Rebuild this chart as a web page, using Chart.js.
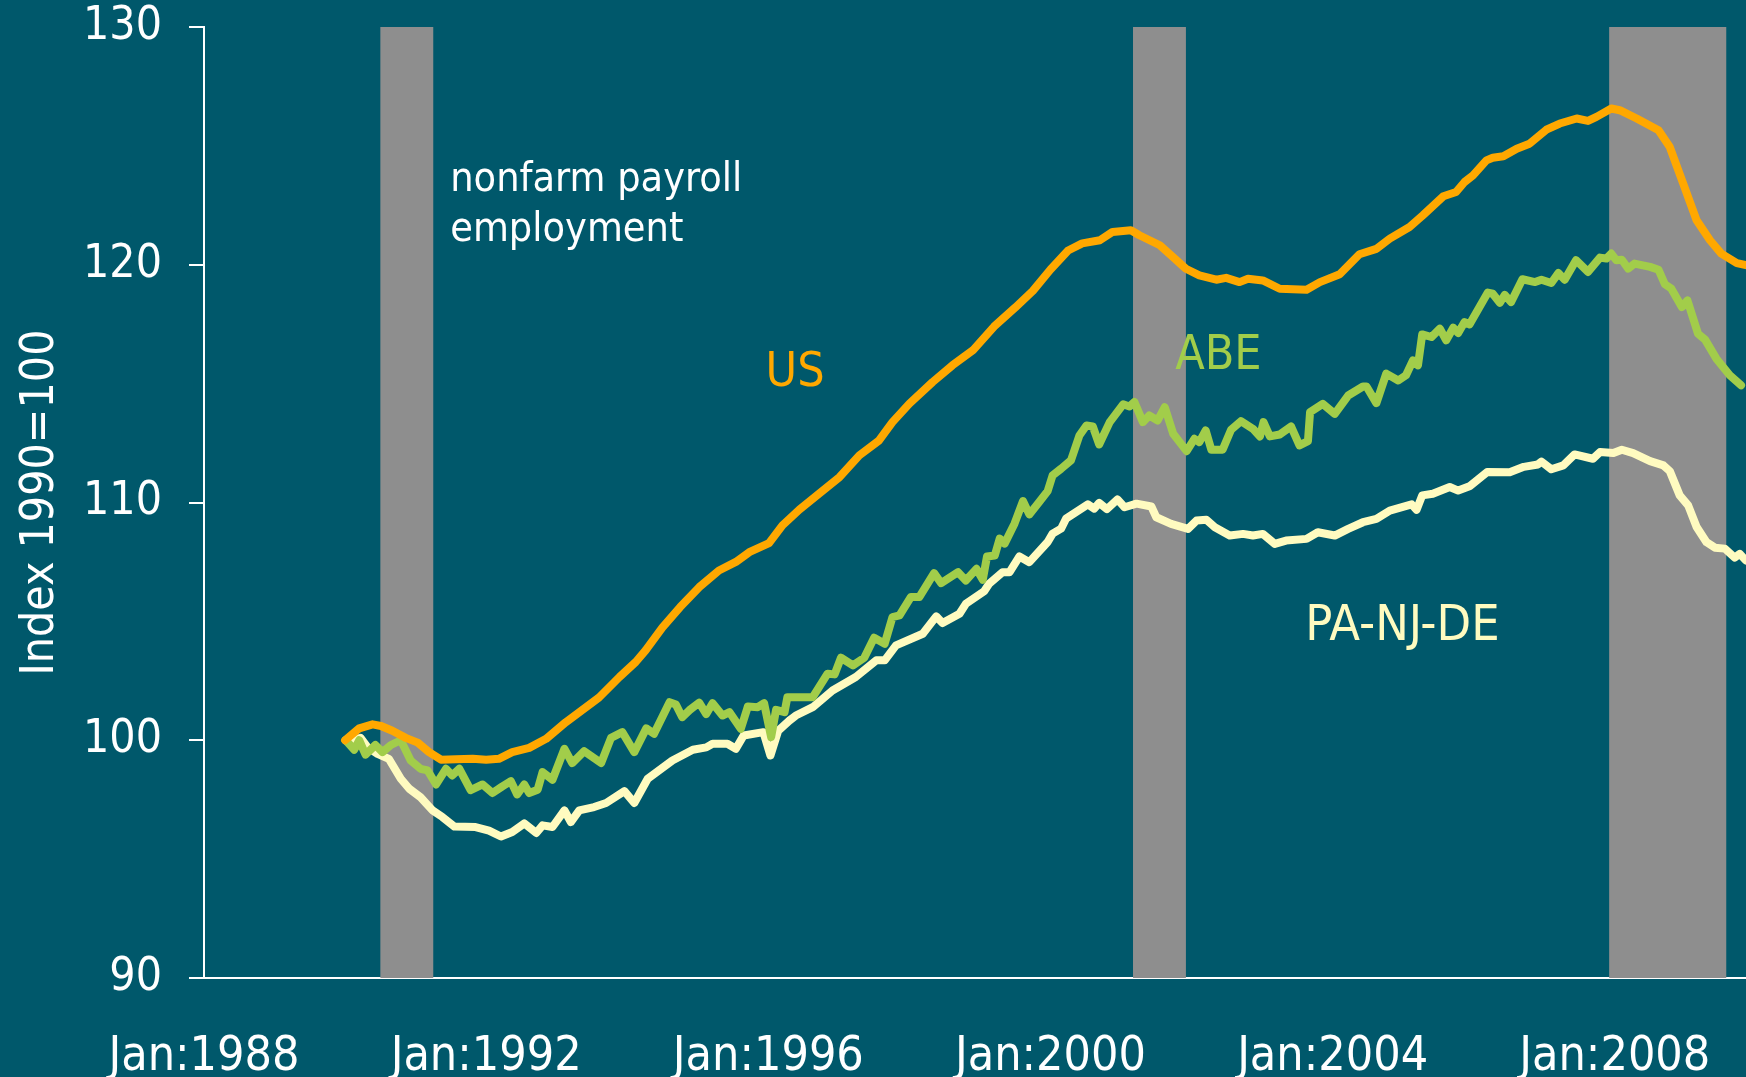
<!DOCTYPE html>
<html>
<head>
<meta charset="utf-8">
<script src="https://cdn.jsdelivr.net/npm/chart.js@4.4.1/dist/chart.umd.min.js"></script>
<style>
  body { margin: 0; background: #00586b; }
  canvas { display: block; }
</style>
</head>
<body>
<canvas id="payroll" width="1746" height="1077"></canvas>
<script>
var FONT = "'DejaVu Sans Condensed', 'DejaVu Sans', sans-serif";

/* x ticks, in years */
var tickYears = [1988, 1992, 1996, 2000, 2004, 2008];

/* recessions, start and end as decimal years */
var recessionStart = [1990.5, 2001.17, 2007.92];
var recessionEnd = [1991.25, 2001.92, 2009.58];

/* US nonfarm payroll employment, index 1990=100 */
var usDates = [1990.00, 1990.20, 1990.39, 1990.51, 1990.67, 1990.86, 1991.03, 1991.19, 1991.36, 1991.57,
  1991.81, 1992.00, 1992.18, 1992.37, 1992.61, 1992.85, 1993.13, 1993.32, 1993.60, 1993.89,
  1994.12, 1994.26, 1994.50, 1994.75, 1995.02, 1995.30, 1995.54, 1995.73, 1996.01, 1996.20,
  1996.44, 1996.72, 1997.01, 1997.29, 1997.57, 1997.76, 1998.00, 1998.33, 1998.61, 1998.90,
  1999.20, 1999.50, 1999.75, 2000.00, 2000.25, 2000.45, 2000.70, 2000.88, 2001.14, 2001.26,
  2001.55, 2001.74, 2001.92, 2002.11, 2002.35, 2002.49, 2002.68, 2002.80, 2003.01, 2003.25,
  2003.63, 2003.82, 2004.10, 2004.38, 2004.62, 2004.81, 2005.09, 2005.28, 2005.57, 2005.75,
  2005.87, 2005.99, 2006.18, 2006.27, 2006.42, 2006.61, 2006.79, 2007.03, 2007.22, 2007.46,
  2007.62, 2007.74, 2007.95, 2008.07, 2008.31, 2008.62, 2008.78, 2008.97, 2009.16, 2009.35,
  2009.51, 2009.73, 2009.86];
var usValues = [100.0, 100.5, 100.67, 100.6, 100.4, 100.1, 99.9, 99.5, 99.18, 99.2,
  99.22, 99.18, 99.22, 99.5, 99.68, 100.06, 100.76, 101.18, 101.8, 102.66,
  103.29, 103.78, 104.75, 105.6, 106.44, 107.14, 107.5, 107.91, 108.29, 109.04,
  109.7, 110.37, 111.07, 111.98, 112.61, 113.38, 114.16, 115.07, 115.77, 116.4,
  117.4, 118.2, 118.9, 119.8, 120.6, 120.9, 121.03, 121.38, 121.45, 121.24,
  120.82, 120.32, 119.83, 119.55, 119.37, 119.45, 119.27, 119.41, 119.34, 118.99,
  118.95, 119.27, 119.6, 120.44, 120.67, 121.1, 121.59, 122.08, 122.88, 123.06,
  123.48, 123.76, 124.39, 124.5, 124.56, 124.88, 125.09, 125.68, 125.94, 126.15,
  126.05, 126.22, 126.57, 126.5, 126.15, 125.66, 124.95, 123.41, 121.87, 121.03,
  120.47, 120.07, 119.98];

/* ABE */
var abeDates = [1990.01, 1990.13, 1990.20, 1990.29, 1990.43, 1990.53, 1990.65, 1990.79, 1990.93, 1991.07,
  1991.17, 1991.29, 1991.43, 1991.52, 1991.62, 1991.78, 1991.95, 1992.09, 1992.23, 1992.35,
  1992.44, 1992.54, 1992.61, 1992.73, 1992.80, 1992.94, 1993.11, 1993.22, 1993.39, 1993.63,
  1993.77, 1993.93, 1994.10, 1994.27, 1994.38, 1994.60, 1994.69, 1994.78, 1994.88, 1995.02,
  1995.12, 1995.21, 1995.35, 1995.45, 1995.61, 1995.71, 1995.85, 1995.94, 1996.04, 1996.11,
  1996.23, 1996.27, 1996.63, 1996.84, 1996.94, 1997.03, 1997.20, 1997.36, 1997.50, 1997.65,
  1997.76, 1997.86, 1998.02, 1998.14, 1998.35, 1998.45, 1998.69, 1998.80, 1998.95, 1999.04,
  1999.10, 1999.21, 1999.28, 1999.35, 1999.49, 1999.61, 1999.70, 1999.84, 1999.96, 2000.03,
  2000.15, 2000.29, 2000.41, 2000.51, 2000.60, 2000.69, 2000.84, 2001.03, 2001.12, 2001.19,
  2001.31, 2001.40, 2001.52, 2001.62, 2001.74, 2001.93, 2002.04, 2002.11, 2002.20, 2002.28,
  2002.44, 2002.56, 2002.70, 2002.87, 2002.97, 2003.02, 2003.11, 2003.25, 2003.41, 2003.53,
  2003.65, 2003.68, 2003.86, 2004.03, 2004.22, 2004.43, 2004.48, 2004.62, 2004.76, 2004.93,
  2005.04, 2005.14, 2005.21, 2005.27, 2005.40, 2005.52, 2005.61, 2005.71, 2005.78, 2005.87,
  2005.94, 2006.20, 2006.27, 2006.37, 2006.44, 2006.53, 2006.69, 2006.87, 2006.96, 2007.10,
  2007.20, 2007.29, 2007.45, 2007.62, 2007.79, 2007.88, 2007.95, 2008.02, 2008.10, 2008.19,
  2008.28, 2008.50, 2008.62, 2008.71, 2008.80, 2008.95, 2009.03, 2009.18, 2009.28, 2009.44,
  2009.63, 2009.79];
var abeValues = [100.0, 99.6, 100.0, 99.4, 99.8, 99.5, 99.8, 100.0, 99.15, 98.8,
  98.73, 98.14, 98.8, 98.52, 98.8, 97.9, 98.14, 97.78, 98.06, 98.28,
  97.72, 98.14, 97.78, 97.92, 98.66, 98.34, 99.64, 99.04, 99.54, 99.04,
  100.1, 100.34, 99.5, 100.5, 100.27, 101.6, 101.5, 100.97, 101.26, 101.58,
  101.1, 101.56, 101.04, 101.18, 100.48, 101.42, 101.39, 101.56, 100.13, 101.28,
  101.18, 101.81, 101.81, 102.8, 102.77, 103.47, 103.15, 103.47, 104.31, 104.06,
  105.18, 105.25, 106.02, 106.02, 107.03, 106.61, 107.07, 106.72, 107.21, 106.75,
  107.73, 107.77, 108.48, 108.27, 109.11, 110.06, 109.5, 110.02, 110.48, 111.14,
  111.42, 111.77, 112.82, 113.24, 113.2, 112.44, 113.38, 114.13, 114.04, 114.23,
  113.38, 113.66, 113.45, 114.01, 112.89, 112.16, 112.68, 112.54, 113.03, 112.22,
  112.22, 113.06, 113.42, 113.1, 112.78, 113.38, 112.78, 112.86, 113.2, 112.4,
  112.58, 113.8, 114.15, 113.73, 114.5, 114.88, 114.88, 114.18, 115.42, 115.13,
  115.35, 115.98, 115.77, 117.07, 116.96, 117.31, 116.82, 117.35, 117.13, 117.59,
  117.49, 118.83, 118.78, 118.4, 118.73, 118.43, 119.39, 119.27, 119.37, 119.23,
  119.65, 119.37, 120.19, 119.7, 120.3, 120.26, 120.47, 120.19, 120.21, 119.84,
  120.05, 119.91, 119.79, 119.18, 119.0, 118.22, 118.5, 117.1, 116.85, 116.05,
  115.35, 114.93];

/* PA-NJ-DE */
var paDates = [1990.01, 1990.22, 1990.32, 1990.46, 1990.62, 1990.79, 1990.91, 1991.07, 1991.24, 1991.38,
  1991.55, 1991.85, 1992.04, 1992.21, 1992.37, 1992.54, 1992.71, 1992.80, 1992.94, 1993.11,
  1993.20, 1993.32, 1993.53, 1993.70, 1993.96, 1994.10, 1994.29, 1994.64, 1994.93, 1995.12,
  1995.21, 1995.42, 1995.54, 1995.65, 1995.93, 1996.03, 1996.14, 1996.30, 1996.39, 1996.63,
  1996.91, 1997.24, 1997.53, 1997.65, 1997.81, 1998.19, 1998.38, 1998.47, 1998.71, 1998.80,
  1999.06, 1999.13, 1999.32, 1999.42, 1999.56, 1999.70, 1999.96, 2000.03, 2000.15, 2000.22,
  2000.53, 2000.62, 2000.69, 2000.80, 2000.95, 2001.05, 2001.22, 2001.43, 2001.50, 2001.71,
  2001.95, 2002.07, 2002.21, 2002.33, 2002.54, 2002.73, 2002.87, 2003.01, 2003.18, 2003.34,
  2003.63, 2003.79, 2004.03, 2004.22, 2004.43, 2004.62, 2004.81, 2005.12, 2005.19, 2005.27,
  2005.42, 2005.66, 2005.78, 2005.94, 2006.19, 2006.51, 2006.71, 2006.91, 2006.96, 2007.10,
  2007.27, 2007.43, 2007.69, 2007.79, 2007.98, 2008.10, 2008.26, 2008.50, 2008.69, 2008.78,
  2008.92, 2009.04, 2009.16, 2009.30, 2009.42, 2009.56, 2009.70, 2009.77, 2009.86];
var paValues = [100.0, 100.1, 99.7, 99.43, 99.22, 98.38, 97.96, 97.6, 97.05, 96.77,
  96.37, 96.35, 96.2, 95.95, 96.14, 96.5, 96.1, 96.42, 96.35, 97.05,
  96.56, 97.05, 97.19, 97.36, 97.86, 97.36, 98.38, 99.15, 99.6, 99.7,
  99.85, 99.85, 99.64, 100.2, 100.34, 99.36, 100.4, 100.83, 101.04, 101.39,
  102.09, 102.66, 103.36, 103.36, 103.99, 104.48, 105.21, 104.93, 105.32, 105.74,
  106.27, 106.58, 107.07, 107.07, 107.73, 107.49, 108.34, 108.69, 108.9, 109.32,
  109.92, 109.74, 109.98, 109.72, 110.13, 109.8, 109.95, 109.83, 109.38, 109.1,
  108.89, 109.24, 109.27, 108.96, 108.61, 108.68, 108.61, 108.68, 108.26, 108.4,
  108.47, 108.75, 108.61, 108.89, 109.17, 109.31, 109.66, 109.92, 109.69, 110.3,
  110.37, 110.65, 110.5, 110.68, 111.28, 111.27, 111.5, 111.6, 111.72, 111.4,
  111.56, 112.02, 111.84, 112.12, 112.08, 112.22, 112.08, 111.74, 111.56, 111.32,
  110.3, 109.88, 108.97, 108.33, 108.1, 108.06, 107.68, 107.84, 107.56];

/* text on the chart, placed in data units */
var notes = [
  {text: 'nonfarm payroll', x: 1991.49, y: 123.55, color: '#ffffff', size: 41, align: 'left'},
  {text: 'employment', x: 1991.49, y: 121.45, color: '#ffffff', size: 41, align: 'left'},
  {text: 'US', x: 1996.38, y: 115.43, color: '#ffa800', size: 48, align: 'center'},
  {text: 'ABE', x: 2002.38, y: 116.15, color: '#a2cd4a', size: 48, align: 'center'},
  {text: 'PA-NJ-DE', x: 2004.99, y: 104.75, color: '#fffbc0', size: 50, align: 'center'}
];

var toPoints = function(dates, values){
  var pts = [];
  for (var i = 0; i < dates.length; i++) {
    pts.push({x: dates[i], y: values[i]});
  }
  return pts;
};

var lineSet = function(label, dates, values, color){
  return {
    label: label,
    data: toPoints(dates, values),
    borderColor: color,
    borderWidth: 8,
    borderJoinStyle: 'round',
    borderCapStyle: 'round',
    pointRadius: 0,
    tension: 0,
    fill: false
  };
};

/* teal background, grey recession bars and the labels */
var decorations = {
  id: 'decorations',
  beforeDraw: function(chart){
    var ctx = chart.ctx;
    ctx.save();
    ctx.fillStyle = '#00586b';
    ctx.fillRect(0, 0, chart.width, chart.height);
    ctx.restore();
  },
  beforeDatasetsDraw: function(chart){
    var ctx = chart.ctx, x = chart.scales.x, area = chart.chartArea;
    ctx.save();
    ctx.fillStyle = '#8e8e8e';
    for (var i = 0; i < recessionStart.length; i++) {
      var a = x.getPixelForValue(recessionStart[i]);
      var b = x.getPixelForValue(recessionEnd[i]);
      ctx.fillRect(a, area.top, b - a, area.bottom - area.top);
    }
    ctx.restore();
  },
  afterDatasetsDraw: function(chart){
    var ctx = chart.ctx, x = chart.scales.x, y = chart.scales.y;
    ctx.save();
    ctx.textBaseline = 'middle';
    for (var i = 0; i < notes.length; i++) {
      var n = notes[i];
      ctx.font = n.size + 'px ' + FONT;
      ctx.fillStyle = n.color;
      ctx.textAlign = n.align;
      ctx.fillText(n.text, x.getPixelForValue(n.x), y.getPixelForValue(n.y));
    }
    ctx.restore();
  }
};

var ctx = document.getElementById('payroll');
var myChart = new Chart(ctx, {
  type: 'line',
  data: {
    datasets: [
      lineSet('US', usDates, usValues, '#ffa800'),
      lineSet('ABE', abeDates, abeValues, '#a2cd4a'),
      lineSet('PA-NJ-DE', paDates, paValues, '#fffbc0')
    ]
  },
  options: {
    responsive: false,
    animation: false,
    layout: {padding: 0},
    plugins: {legend: {display: false}, tooltip: {enabled: false}},
    scales: {
      x: {
        type: 'linear',
        min: 1988,
        max: 2009.86,
        grid: {display: false},
        border: {display: true, color: '#ffffff', width: 2},
        afterBuildTicks: function(scale){
          scale.ticks = tickYears.map(function(v){ return {value: v}; });
        },
        afterFit: function(scale){
          scale.height = 99;
          scale.paddingLeft = 0;
          scale.paddingRight = 0;
        },
        ticks: {
          color: '#ffffff',
          font: {family: FONT, size: 48},
          padding: 43,
          maxRotation: 0,
          autoSkip: false,
          callback: function(v){ return 'Jan:' + v; }
        }
      },
      y: {
        min: 90,
        max: 130,
        grid: {drawOnChartArea: false, drawTicks: true, tickLength: 15, color: '#ffffff', lineWidth: 2},
        border: {display: true, color: '#ffffff', width: 2},
        afterFit: function(scale){
          scale.width = 204;
          scale.paddingTop = 27;
          scale.paddingBottom = 0;
        },
        ticks: {
          stepSize: 10,
          color: '#ffffff',
          font: {family: FONT, size: 46},
          padding: 27
        },
        title: {
          display: true,
          text: 'Index 1990=100',
          color: '#ffffff',
          font: {family: FONT, size: 46},
          padding: {top: 13, bottom: 0}
        }
      }
    }
  },
  plugins: [decorations]
});
</script>
</body>
</html>
